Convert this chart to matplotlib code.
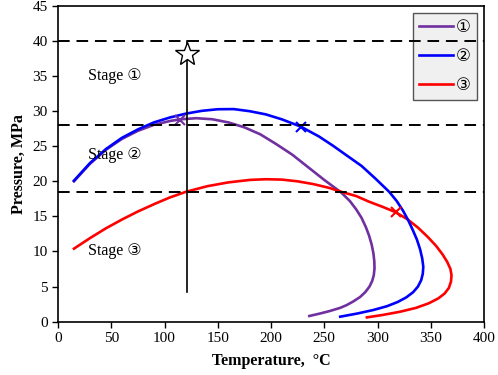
import matplotlib
matplotlib.use("Agg")
import matplotlib.pyplot as plt

# ---- data ----
t1 = [15, 30, 45, 60, 75, 90, 105, 115, 130, 145, 160, 175, 190, 205, 220, 235, 250, 258, 266, 274, 280, 285, 289, 292, 294.5, 296.2, 297, 297.2, 296.5, 295, 292.5, 288.5, 283.6, 277, 271, 264.8, 255, 246, 236]
p1 = [20.0, 22.5, 24.5, 26.05, 27.2, 28.05, 28.6, 28.85, 29.0, 28.85, 28.4, 27.7, 26.7, 25.3, 23.8, 22.0, 20.2, 19.3, 18.4, 17.2, 16.0, 14.8, 13.5, 12.3, 11.0, 9.7, 8.6, 7.6, 6.6, 5.8, 5.0, 4.2, 3.5, 2.85, 2.35, 1.95, 1.5, 1.15, 0.8]

t2 = [15, 30, 45, 60, 75, 90, 105, 120, 135, 150, 165, 180, 195, 210, 228, 245, 258, 271, 285, 298, 311, 318, 324, 329, 333, 337, 340, 342, 343, 342.5, 341, 338, 333.5, 327, 319, 309, 296, 281, 265]
p2 = [20.1, 22.6, 24.6, 26.2, 27.4, 28.4, 29.1, 29.65, 30.05, 30.28, 30.3, 30.0, 29.55, 28.85, 27.8, 26.4, 25.1, 23.7, 22.2, 20.4, 18.5, 17.2, 15.8, 14.4, 13.1, 11.7, 10.3, 9.0, 7.8, 6.8, 5.9, 5.0, 4.2, 3.45, 2.8, 2.2, 1.65, 1.15, 0.7]

t3 = [15, 30, 45, 60, 75, 91, 105, 120, 140, 160, 180, 195, 210, 225, 240, 255, 266, 280, 292, 305, 317, 328, 338, 347, 355, 361, 365.5, 368.5, 369.5, 369, 367, 363, 357, 348, 336, 321, 305, 290]
p3 = [10.4, 11.9, 13.3, 14.55, 15.7, 16.8, 17.7, 18.5, 19.3, 19.85, 20.2, 20.3, 20.25, 20.0, 19.6, 19.05, 18.5, 17.9, 17.1, 16.35, 15.6, 14.6, 13.4, 12.1, 10.8, 9.6, 8.5, 7.5, 6.6, 5.7, 4.8, 4.0, 3.3, 2.6, 1.95, 1.4, 0.95, 0.6]

marker_t = [114.6, 228, 317]
marker_p = [28.8, 27.8, 15.65]

stage_levels = [40, 28, 18.5]
stage_labels = ["Stage ①", "Stage ②", "Stage ③"]
stage_text_y = [35, 23.8, 10.0]
series_labels = ["①", "②", "③"]
colors = ["#7030A0", "#0000FF", "#FF0000"]

vline_t = 121
vline_p = [4.2, 40]
star_t, star_p = 121, 38.2

xticks = [0, 50, 100, 150, 200, 250, 300, 350, 400]
yticks = [0, 5, 10, 15, 20, 25, 30, 35, 40, 45]

fam = ["Liberation Serif", "DejaVu Sans"]
plt.rcParams["font.family"] = fam

fig = plt.figure(figsize=(4.98, 3.75), dpi=100)
ax = fig.add_axes([58/498, 1-321.6/375, 426/498, 315.6/375])

series = [(t1, p1), (t2, p2), (t3, p3)]
zords = [3, 4, 3.5]
for (t, p), c, lab, z in zip(series, colors, series_labels, zords):
    ax.plot(t, p, color=c, lw=1.9, label=lab, zorder=z, solid_joinstyle="round")
for mt, mp, c in zip(marker_t, marker_p, colors):
    ax.plot(mt, mp, marker="x", color=c, ms=7, mew=1.5, zorder=5, linestyle="none")

for lv in stage_levels:
    ax.axhline(lv, color="black", lw=1.4, dashes=(6, 3.5), zorder=6)

ax.plot([vline_t, vline_t], vline_p, color="black", lw=1.2, zorder=6)
ax.plot(star_t, star_p, marker="*", ms=18, mfc="white", mec="black", mew=1.0, zorder=7, linestyle="none")

for txt, y in zip(stage_labels, stage_text_y):
    ax.text(28, y, txt, fontsize=11.5, va="center", ha="left", family=fam, zorder=8)

ax.set_xlim(0, 400)
ax.set_ylim(0, 45)
ax.set_xticks(xticks)
ax.set_yticks(yticks)
ax.tick_params(direction="out", length=4, width=1, labelsize=11, top=False, right=False)
for s in ax.spines.values():
    s.set_linewidth(1.2)

ax.set_xlabel("Temperature,  °C", fontsize=11.5, fontweight="bold", labelpad=6)
ax.set_ylabel("Pressure, MPa", fontsize=11.5, fontweight="bold", labelpad=4)

leg = ax.legend(loc="upper right", bbox_to_anchor=(0.984, 0.977), borderaxespad=0,
                fontsize=12, handlelength=2.0, handletextpad=0.2, labelspacing=0.78,
                borderpad=0.38, fancybox=False, framealpha=1)
leg.get_frame().set_facecolor("#f0f0f0")
leg.get_frame().set_edgecolor("#555555")
leg.set_zorder(5)

fig.savefig("out.png", dpi=100)
